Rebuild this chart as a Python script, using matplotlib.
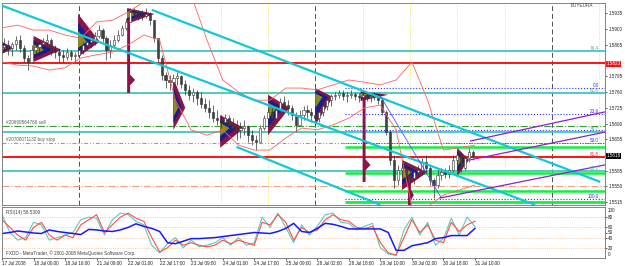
import numpy as np
import matplotlib.pyplot as plt
from matplotlib.patches import Polygon
from matplotlib.transforms import blended_transform_factory

plt.rcParams['font.family'] = ['Liberation Sans', 'DejaVu Sans']

BASE = 1.5500   # harga disimpan sebagai pips di atas level ini
PIP = 0.0001
FS = 3.3

# EURUSD, bar 2 jam mulai 17 Jul 2008 08:00 (dalam pips)
first_open = 360
bar_high = [380, 376, 372, 385, 387, 365, 343, 365, 372, 376, 380, 389, 380, 365, 358, 354, 358, 354, 349, 358,
            372, 380, 385, 394, 409, 403, 385, 376, 387, 398, 409, 425, 447, 447, 443, 443, 447, 438, 420, 380,
            343, 305, 298, 300, 305, 298, 287, 276, 269, 265, 260, 247, 242, 231, 220, 209, 211, 209, 202, 198,
            193, 198, 187, 176, 164, 187, 209, 225, 225, 231, 247, 251, 242, 231, 216, 220, 229, 231, 225, 231,
            225, 238, 247, 256, 260, 265, 265, 260, 265, 260, 258, 260, 258, 256, 260, 256, 247, 220, 176, 120,
            98, 109, 104, 91, 87, 98, 113, 120, 98, 69, 87, 91, 91, 98, 120, 131, 127, 120, 136, 131]
bar_low = [349, 343, 340, 354, 349, 327, 309, 325, 343, 349, 354, 358, 343, 336, 327, 327, 331, 331, 327, 336,
           345, 354, 358, 365, 380, 372, 331, 336, 358, 372, 385, 398, 416, 425, 420, 420, 425, 409, 372, 327,
           287, 269, 265, 269, 276, 269, 254, 242, 238, 231, 225, 216, 202, 193, 187, 180, 185, 176, 164, 153,
           158, 164, 149, 142, 131, 149, 176, 193, 187, 202, 216, 220, 209, 198, 171, 187, 198, 202, 193, 187,
           193, 207, 220, 229, 242, 247, 242, 238, 247, 242, 238, 242, 240, 238, 242, 234, 209, 164, 98, 47,
           53, 69, 64, 53, 55, 69, 75, 82, 53, 24, 47, 64, 69, 69, 82, 98, 82, 87, 104, 109]
bar_close = [365, 358, 367, 376, 358, 336, 327, 354, 360, 367, 372, 376, 354, 349, 343, 338, 349, 340, 343, 354,
             365, 372, 376, 385, 398, 380, 354, 365, 376, 387, 403, 416, 438, 434, 432, 429, 434, 420, 380, 336,
             298, 287, 282, 291, 296, 278, 265, 254, 260, 247, 234, 225, 216, 202, 198, 193, 202, 187, 180, 176,
             180, 185, 164, 153, 149, 180, 202, 216, 202, 220, 238, 231, 225, 209, 187, 209, 220, 216, 209, 202,
             216, 229, 242, 251, 254, 258, 251, 254, 256, 251, 249, 254, 249, 251, 254, 242, 216, 171, 109, 64,
             87, 91, 75, 69, 82, 87, 104, 91, 64, 53, 75, 82, 78, 87, 109, 120, 91, 113, 127, 118]

# Bollinger band, dibaca tiap 8 jam (pips)
bb_upper = [403, 409, 398, 398, 387, 380, 416, 420, 438, 461, 465, 487, 476, 376, 287, 260,
            242, 242, 269, 269, 265, 276, 287, 282, 276, 287, 327, 242, 131, 136, 142]
bb_lower = [327, 320, 318, 309, 314, 336, 343, 349, 365, 387, 376, 242, 176, 164, 176, 142,
            131, 131, 158, 180, 176, 187, 202, 225, 231, 176, 5, 5, 31, 42, 53]

# RSI, dibaca tiap 4 jam
rsi_red = [75, 60, 45, 35, 60, 70, 45, 35, 45, 40, 65, 75, 85, 50, 65, 80, 88, 78, 72, 40,
           12, 20, 35, 25, 30, 25, 22, 25, 35, 28, 35, 30, 25, 70, 65, 85, 70, 35, 60, 50,
           55, 75, 85, 75, 72, 60, 58, 62, 30, 10, 6, 40, 75, 50, 65, 35, 30, 70, 52, 65, 72]
rsi_teal = [85, 50, 35, 40, 70, 65, 35, 40, 45, 50, 75, 80, 78, 45, 75, 88, 85, 72, 65, 25,
            10, 28, 40, 20, 35, 22, 25, 30, 40, 25, 40, 25, 30, 80, 60, 88, 60, 30, 65, 45,
            62, 85, 88, 70, 68, 55, 62, 68, 20, 8, 5, 55, 80, 45, 70, 25, 38, 78, 45, 80, 62]
rsi_blue = [48, 50, 53, 51, 49, 48, 55, 52, 50, 48, 46, 56, 55, 53, 52, 55, 60, 67, 62, 58,
            52, 30, 28, 33, 38, 38, 39, 40, 42, 44, 46, 48, 50, 49, 48, 52, 58, 68, 52, 50,
            58, 68, 66, 62, 57, 57, 57, 57, 57, 50, 15, 15, 24, 27, 30, 38, 40, 44, 44, 44, 58]

time_labels = ["17 Jul 2008", "18 Jul 00:00", "18 Jul 16:00", "21 Jul 09:00", "22 Jul 01:00",
               "22 Jul 17:00", "23 Jul 09:00", "24 Jul 01:00", "24 Jul 17:00", "25 Jul 09:00",
               "28 Jul 02:00", "28 Jul 18:00", "29 Jul 10:00", "30 Jul 02:00", "30 Jul 18:00",
               "31 Jul 10:00"]
price_ticks = [1.5935, 1.5900, 1.5865, 1.5795, 1.5760, 1.5725, 1.5690, 1.5655, 1.5585, 1.5550, 1.5515]
rsi_ticks = [80, 60, 50, 40, 20]

# level horizontal: (pips, warna, tebal, gaya, mulai jam)
h_levels = [
    (352, '#40c8b8', 1.3, '-', 0), (325, '#ff1010', 1.4, '-', 0),
    (269, '#3030ff', 0.8, ':', 174), (258, '#40c8b8', 1.3, '-', 0),
    (211, '#3030ff', 0.8, ':', 174), (185, '#30a030', 0.8, '-.', 0),
    (176, '#3030ff', 0.8, ':', 174), (171, '#40c8b8', 1.3, '-', 0),
    (147, '#70b070', 0.7, (0, (4, 2, 1, 2, 1, 2)), 0), (147, '#3030ff', 0.7, ':', 174),
    (138, '#10f040', 1.8, '-', 174), (116, '#ff1010', 1.4, '-', 0),
    (84, '#40c8b8', 1.3, '-', 0), (80, '#10f040', 1.8, '-', 174),
    (51, '#f0a080', 0.8, '-.', 0), (40, '#10f040', 1.8, '-', 174),
    (22, '#3030ff', 0.8, ':', 174), (15, '#10f040', 2.0, '-', 174),
]
fib_labels = [("76.4", 352, '#40b0a8'), ("0.0", 269, '#3030ff'), ("61.8", 258, '#40b0a8'),
              ("23.6", 211, '#3030ff'), ("38.2", 171, '#40b0a8'), ("50.0", 147, '#3030ff'),
              ("61.8", 116, '#ff2020'), ("38.2", 84, '#40b0a8'), ("100.0", 22, '#3030ff')]

# garis tren: (jam1, pips1, jam2, pips2, warna, tebal)
trend_lines = [
    (-1, 454, 270.6, 9, '#10c8d8', 1.6),
    (76, 443, 303.6, 60, '#10c8d8', 1.6),
    (119, 138, 192, 9, '#10c8d8', 1.6),
    (192, 251, 223, 24, '#5050ff', 0.6),
    (222, 24, 306, 98, '#9020c8', 0.9),
    (237.5, 109, 306, 171, '#9020c8', 0.9),
    (237.5, 151, 306, 216, '#9020c8', 0.9),
]

# market profile: (jam mulai, pips atas, pips bawah, pips puncak, lebar jam)
profiles = [
    (0, 372, 345, 358, 6), (16, 385, 327, 354, 14), (38.6, 434, 338, 372, 11),
    (63.5, 447, 412, 434, 14), (87, 291, 176, 225, 6), (110.7, 209, 136, 180, 12),
    (135, 254, 164, 225, 11), (159, 269, 187, 249, 9), (182, 262, 240, 254, 14),
    (203, 109, 42, 82, 13), (231, 136, 73, 109, 6),
]
# kolom profil tipis: (jam, pips atas, pips bawah, pips tonjolan, lebar tonjolan)
profile_columns = [(63.5, 420, 258, 287, 4), (183, 247, 60, 98, 4), (206, 75, 8, 31, 3)]

day_lines = [111, 135, 183, 207, 231, 255, 303]
week_lines = [39, 159, 279]


def px(p):
    return BASE + np.asarray(p, dtype=float) * PIP


fig = plt.figure(figsize=(6.25, 2.66), dpi=100)
ax = fig.add_axes([2 / 625, 1 - 205 / 266, 603 / 625, 202 / 266])
ax2 = fig.add_axes([2 / 625, 1 - 258 / 266, 603 / 625, 51 / 266])
for a in (ax, ax2):
    a.set_xlim(0, 306)
    for s in a.spines.values():
        s.set_color('#707070')
        s.set_linewidth(0.6)
ax.set_ylim(px(8.7), px(458.3))
ax2.set_ylim(0, 100)

# pemisah hari / minggu
for h in day_lines:
    ax.axvline(h, color='#e8e040', lw=0.6, ls=':', zorder=1)
for h in week_lines:
    ax.axvline(h, color='#505050', lw=0.7, ls=(0, (5, 3)), zorder=1)

# level horizontal
for p, c, lw, ls, h0 in h_levels:
    ax.hlines(px(p), h0, 306, colors=c, lw=lw, linestyles=ls, zorder=2)

# market profile
maroon, navy, olive = '#8c1448', '#1c1c90', '#8c8c1c'
for h0, top, bot, peak, w in profiles:
    for frac, col in ((1.0, maroon), (0.7, navy), (0.4, olive)):
        t = peak + (top - peak) * frac
        b = peak - (peak - bot) * frac
        poly = Polygon([(h0, px(t)), (h0 + w * frac, px(peak)), (h0, px(b))],
                       closed=True, facecolor=col, edgecolor='none', zorder=2.5)
        ax.add_patch(poly)
for h0, top, bot, bump, w in profile_columns:
    ax.add_patch(Polygon([(h0, px(top)), (h0 + 1.5, px(top)), (h0 + 1.5, px(bump + 12)),
                          (h0 + w, px(bump)), (h0 + 1.5, px(bump - 12)), (h0 + 1.5, px(bot)),
                          (h0, px(bot))], closed=True, facecolor=maroon, edgecolor='none', zorder=2.5))

# candlestick
n = len(bar_close)
xc = np.arange(n) * 2 + 1
opens = np.array([first_open] + bar_close[:-1], dtype=float)
closes = np.array(bar_close, dtype=float)
hi = np.maximum(np.array(bar_high), np.maximum(opens, closes))
lo = np.minimum(np.array(bar_low), np.minimum(opens, closes))
ax.vlines(xc, px(lo), px(hi), colors='#303030', lw=0.5, zorder=3)
up = closes >= opens
body_b = np.minimum(opens, closes)
body_h = np.maximum(np.abs(closes - opens), 0.8)
ax.bar(xc[up], body_h[up] * PIP, bottom=px(body_b[up]), width=1.1,
       color='white', edgecolor='#303030', lw=0.4, zorder=3.5)
ax.bar(xc[~up], body_h[~up] * PIP, bottom=px(body_b[~up]), width=1.1,
       color='#404040', edgecolor='#303030', lw=0.4, zorder=3.5)

# bollinger band
bb_x = np.arange(len(bb_upper)) * 8
ax.plot(bb_x, px(bb_upper), color='#ff6060', lw=0.6, zorder=4)
ax.plot(bb_x, px(bb_lower), color='#ff6060', lw=0.6, zorder=4)

# garis tren
for h1, p1, h2, p2, c, lw in trend_lines:
    ax.plot([h1, h2], [px(p1), px(p2)], color=c, lw=lw, zorder=4.5, solid_capstyle='butt')

# label fib dan order
for txt, p, c in fib_labels:
    ax.text(303, px(p) + 0.5 * PIP, txt, color=c, fontsize=FS, ha='right', va='bottom', zorder=6)
ax.text(2, px(186), "#20699564766 sell", color='#506050', fontsize=FS, va='bottom', zorder=6)
ax.text(2, px(148), "#20700071132 buy stop", color='#506050', fontsize=FS, va='bottom', zorder=6)
ax.text(300, px(452), "BUYEURA", color='#404040', fontsize=FS, ha='right', va='center', zorder=6)

# sumbu harga kanan
ax.yaxis.tick_right()
ax.set_yticks(price_ticks)
ax.set_yticklabels([f"{v:.4f}" for v in price_ticks])
ax.tick_params(axis='y', labelsize=FS, length=1.5, width=0.5, pad=0.8, colors='#202020')
ax.set_xticks([])
tr = blended_transform_factory(ax.transAxes, ax.transData)
ax.text(1.002, 1.5823, "1.5823", transform=tr, color='white', fontsize=FS, va='center', ha='left',
        bbox=dict(facecolor='#ff1010', edgecolor='none', pad=0.5), zorder=7)
ax.text(1.002, 1.5618, "1.5618", transform=tr, color='white', fontsize=FS, va='center', ha='left',
        bbox=dict(facecolor='black', edgecolor='none', pad=0.5), zorder=7)

# RSI panel
rx = np.arange(len(rsi_red)) * 4
for lvl, c in ((80, '#b0b0b0'), (60, '#f0b070'), (40, '#f0b070'), (20, '#f0b070')):
    ax2.axhline(lvl, color=c, lw=0.5, ls=':')
ax2.plot(rx, rsi_teal, color='#60c8c0', lw=0.8)
ax2.plot(rx, rsi_red, color='#ff5040', lw=0.8)
ax2.plot(rx, rsi_blue, color='#1818ff', lw=1.1)
ax2.yaxis.tick_right()
ax2.set_yticks(rsi_ticks)
ax2.tick_params(axis='y', labelsize=FS, length=1.5, width=0.5, pad=0.8, colors='#202020')
tr2 = blended_transform_factory(ax2.transAxes, ax2.transData)
ax2.text(1.004, 99, "100", transform=tr2, fontsize=FS, va='top', ha='left', color='#202020')
ax2.text(1.004, 1, "0", transform=tr2, fontsize=FS, va='bottom', ha='left', color='#202020')
ax2.text(2, 94, "RSI(14) 58.5309", fontsize=FS, va='top', ha='left', color='#404040')
ax2.text(2, 4, "FXDD - MetaTrader, \u00a9 2001-2008 MetaQuotes Software Corp.", fontsize=FS,
         va='bottom', ha='left', color='#404040')

time_pos = np.arange(len(time_labels)) * 16
ax2.set_xticks(time_pos)
ax2.set_xticklabels(time_labels, ha='left')
ax2.tick_params(axis='x', labelsize=FS, length=1.5, width=0.5, pad=0.8, colors='#202020')

fig.savefig('out.png', dpi=100)
